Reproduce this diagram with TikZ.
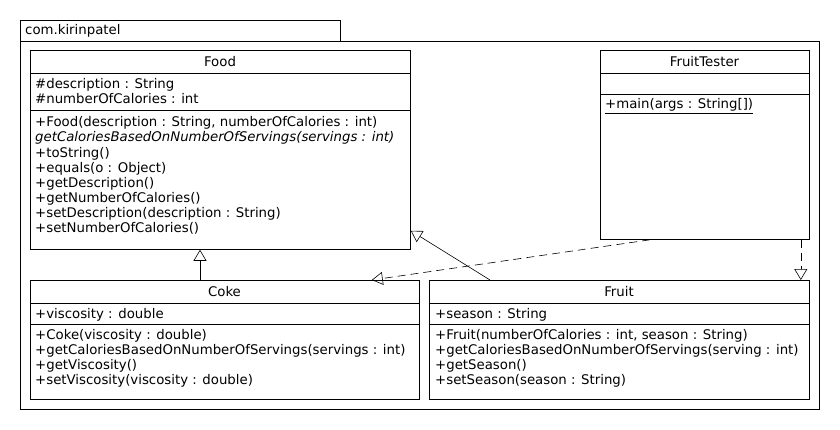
\documentclass[tikz,border=0pt]{standalone}
\usepackage{fontspec}
\setmainfont{DejaVu Sans}
\usetikzlibrary{arrows.meta}

\tikzset{
  umlbox/.style={draw, line width=0.8pt, anchor=north west, inner sep=0pt},
  umltext/.style={anchor=north west, inner sep=0pt, align=left, font=\fontsize{13.3}{15.1}\selectfont},
  umltitle/.style={inner sep=0pt, font=\fontsize{13.3}{15.1}\selectfont},
  inherit/.style={-{Triangle[open,length=11pt,width=13pt]}, line width=0.6pt},
  realize/.style={inherit, dash pattern=on 8pt off 5pt},
}

\begin{document}
\begin{tikzpicture}[x=1pt,y=-1pt]
        \useasboundingbox (0,0) rectangle (840,430);

        % package
        \node[umlbox, minimum width=320pt, minimum height=21pt](tab) at (20,20) {};
        \node[umltitle, anchor=west](pkgname) at (25,31) {com.kirinpatel};
        \node[umlbox, minimum width=799pt, minimum height=368pt](pkg) at (20,41) {};

        % Food
        \node[umlbox, minimum width=380pt, minimum height=199pt](food) at (30,50) {};
        \draw[line width=0.8pt](30,73)--(410,73);
        \draw[line width=0.8pt](30,110)--(410,110);
        \node[umltitle](foodname) at (220,62) {Food};
        \node[umltext](foodattr) at (35,78.5) {\#description : String\\\#numberOfCalories : int};
        \node[umltext](foodops) at (35,116.5) {+Food(description : String, numberOfCalories : int)\\
            \textit{getCaloriesBasedOnNumberOfServings(servings : int)}\\
            +toString()\\+equals(o : Object)\\+getDescription()\\+getNumberOfCalories()\\
            +setDescription(description : String)\\+setNumberOfCalories()};

        % FruitTester
        \node[umlbox, minimum width=209pt, minimum height=189pt](tester) at (600,50) {};
        \draw[line width=0.8pt](600,73)--(809,73);
        \draw[line width=0.8pt](600,94)--(809,94);
        \node[umltitle](testername) at (704.5,62) {FruitTester};
        \node[umltext](testerops) at (605,98.5) {\underline{+main(args : String[])}};

        % Coke
        \node[umlbox, minimum width=389pt, minimum height=119pt](coke) at (30,280) {};
        \draw[line width=0.8pt](30,303)--(419,303);
        \draw[line width=0.8pt](30,324)--(419,324);
        \node[umltitle](cokename) at (224.5,292) {Coke};
        \node[umltext](cokeattr) at (35,308.5) {+viscosity : double};
        \node[umltext](cokeops) at (35,329) {+Coke(viscosity : double)\\
            +getCaloriesBasedOnNumberOfServings(servings : int)\\
            +getViscosity()\\+setViscosity(viscosity : double)};

        % Fruit
        \node[umlbox, minimum width=380pt, minimum height=119pt](fruit) at (429,280) {};
        \draw[line width=0.8pt](429,303)--(809,303);
        \draw[line width=0.8pt](429,324)--(809,324);
        \node[umltitle](fruitname) at (619,292) {Fruit};
        \node[umltext](fruitattr) at (435,308.5) {+season : String};
        \node[umltext](fruitops) at (435,329) {+Fruit(numberOfCalories : int, season : String)\\
            +getCaloriesBasedOnNumberOfServings(serving : int)\\
            +getSeason()\\+setSeason(season : String)};

        % relations
        \draw[inherit]([xshift=170pt]coke.north west)--([xshift=170pt]food.south west);
        \draw[inherit]([xshift=61pt]fruit.north west)--([yshift=19pt]food.south east);
        \draw[realize]([xshift=50pt]tester.south west)--([xshift=-48pt]coke.north east);
        \draw[realize]([xshift=-9pt]tester.south east)--([xshift=-9pt]fruit.north east);

    \end{tikzpicture}
\end{document}
